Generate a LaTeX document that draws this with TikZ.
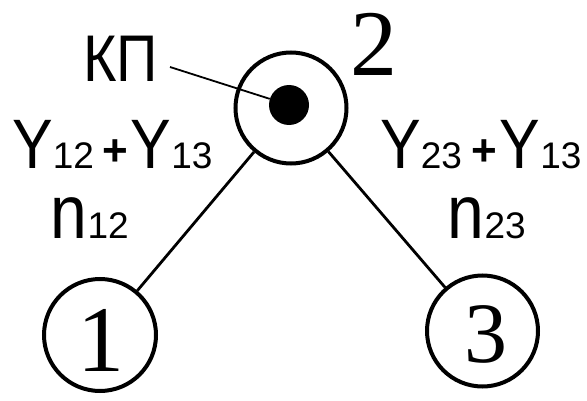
\documentclass[tikz,border=0pt]{standalone}
\usepackage{fontspec}
\setmainfont{Liberation Serif}
\newfontfamily\narrowsans[FakeStretch=0.87]{Liberation Sans}
\newfontfamily\plainsans{Liberation Sans}

% big condensed sans letters and small sans indices
\newcommand\bigsans[2]{{\narrowsans\fontsize{#1}{#1}\selectfont #2}}
\newcommand\idx[1]{{\plainsans\fontsize{37}{37}\selectfont #1}}
\newcommand\smallplus{\raisebox{3pt}{\plainsans\bfseries\fontsize{44}{44}\selectfont +}}

\begin{document}
\begin{tikzpicture}[x=1pt,y=1pt,
  bus/.style={circle,draw,line width=4pt,inner sep=0pt,minimum size=111pt},
  digit/.style={inner sep=0pt,font=\fontsize{94}{94}\selectfont},
  lab/.style={inner sep=0pt,anchor=base west},
  branch/.style={line width=2.8pt},
  leader/.style={line width=1.8pt}]
  \fill[white] (0,0) rectangle (587,400);
  \useasboundingbox (0,0) rectangle (587,400);

  % buses
  \node[bus] (c2) at (291,292) {};
  \node[bus,minimum size=112pt] (c1) at (100,65) {};
  \node[bus] (c3) at (482.5,69) {};
  \node[circle,fill=black,inner sep=0pt,minimum width=38pt,minimum height=40pt] (dot) at (289,295) {};

  % bus numbers
  \node[digit] (n2) at (374,355.5) {2};
  \node[digit] (n1) at (101,60) {1};
  \node[digit,font=\fontsize{86}{86}\selectfont] (n3) at (485.5,66) {3};

  % branches
  \draw[branch] (c2) -- (c1);
  \draw[branch] (c2) -- (c3);

  % control point label with its leader
  \node[lab] (kp) at (83,318) {\bigsans{66}{КП}};
  \coordinate (kpend) at (170,333);
  \draw[leader] (kpend) -- (dot);

  % branch parameters
  \node[lab] (y12) at (12,232)
    {\bigsans{70}{Y}\idx{12}\kern9pt\smallplus\kern2pt\bigsans{70}{Y}\idx{13}};
  \node[lab] (y23) at (380,232)
    {\bigsans{70}{Y}\idx{23}\kern10pt\smallplus\kern2pt\bigsans{70}{Y}\idx{13}};
  \node[lab] (m12) at (50.6,162) {\bigsans{76}{n}\idx{12}};
  \node[lab] (m23) at (447.6,162) {\bigsans{76}{n}\idx{23}};
\end{tikzpicture}
\end{document}
